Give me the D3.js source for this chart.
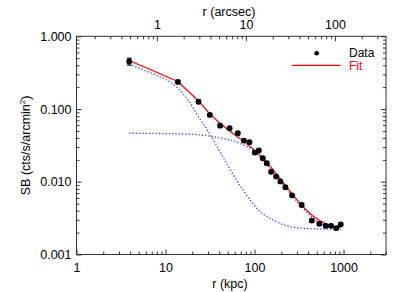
<!DOCTYPE html>
<html>
<head>
<meta charset="utf-8">
<script src="https://cdn.jsdelivr.net/npm/d3@7"></script>
<style>
  body { margin: 0; background: #fff; }
  text { font-family: "Liberation Sans", Arial, sans-serif; fill: #000; }
</style>
</head>
<body>
<div id="chart"></div>
<script>
// radius of each annulus (kpc) and measured surface brightness
var radius = [3.91, 13.8, 23.5, 31.5, 41.1, 52.5, 64.9, 75.9, 87.9, 100.8, 111.7, 123.9, 137.4,
    153.8, 175, 195.5, 222.4, 264.3, 338.7, 440.6, 534.6, 631.6, 724, 828, 930];
var sb = [0.451, 0.236, 0.126, 0.0830, 0.0591, 0.0545, 0.0465, 0.0368, 0.0350, 0.0252, 0.0270,
    0.0211, 0.0180, 0.0137, 0.0118, 0.0101, 0.00843, 0.00650, 0.00479, 0.00293, 0.00264,
    0.00248, 0.00248, 0.00231, 0.00260];
var sbErr = [0.05, 0.012, 0.007, 0.004, 0.003, 0.0025, 0.002, 0.0017, 0.0016, 0.0012, 0.0012,
    0.001, 0.0009, 0.0007, 0.0006, 0.0005, 0.0004, 0.0003, 0.00025, 0.00015, 0.00013,
    0.00012, 0.00012, 0.00012, 0.00013];

// total fit evaluated at the data radii
var fit = [0.465, 0.239, 0.129, 0.0856, 0.0634, 0.0500, 0.0414, 0.0359, 0.0311, 0.0270, 0.0242,
    0.0213, 0.0185, 0.0158, 0.0130, 0.01096, 0.00892, 0.00682, 0.00474, 0.00346, 0.00295,
    0.00264, 0.00248, 0.00238, 0.00233];

// the two model components
var comp1R = [3.91, 6.67, 10.26, 13.8, 17.9, 22.2, 32.7, 46.1, 74.0, 113.8, 175, 319, 930];
var comp1 = [0.416, 0.316, 0.251, 0.193, 0.133, 0.0876, 0.0418, 0.0200, 0.00774, 0.00398,
    0.00284, 0.00231, 0.00222];
var comp2R = [3.91, 14.5, 24.2, 40.5, 67.9, 100, 135, 195.5, 338.7, 534.6, 930];
var comp2 = [0.0465, 0.0455, 0.0441, 0.0401, 0.0339, 0.0262, 0.0177, 0.0102, 0.00452,
    0.00272, 0.00222];

var kpcPerArcsec = 8.0;
var xTicks = [1, 10, 100, 1000];
var topTicks = [1, 10, 100];
var yTicks = [0.001, 0.01, 0.1, 1];

var W = 409, H = 292;
var pLeft = 76.5, pRight = 386, pTop = 36.3, pBottom = 254.5;

var svg = d3.select("#chart").append("svg")
    .attr("width", W).attr("height", H);

var x = d3.scaleLog().domain([1, 3000]).range([pLeft, pRight]);
var xTop = d3.scaleLog().domain([1 / kpcPerArcsec, 3000 / kpcPerArcsec]).range([pLeft, pRight]);
var y = d3.scaleLog().domain([0.001, 1]).range([pBottom, pTop]);

// 2..9 in every decade between lo and hi
function minors(lo, hi) {
    var out = [];
    var d = Math.pow(10, Math.floor(Math.log10(lo)));
    for (; d < hi; d *= 10) {
        for (var k = 2; k < 10; k++) {
            if (d * k >= lo && d * k <= hi) out.push(d * k);
        }
    }
    return out;
}

var axisCol = "#333";

// bottom axis
svg.append("g").attr("transform", "translate(0," + pBottom + ")")
    .call(d3.axisBottom(x).tickValues(minors(1, 3000)).tickSize(-3).tickFormat(""));
svg.append("g").attr("transform", "translate(0," + pBottom + ")")
    .call(d3.axisBottom(x).tickValues(xTicks).tickSize(-5).tickPadding(9).tickFormat(d3.format("d")));

// top axis in arcsec
svg.append("g").attr("transform", "translate(0," + pTop + ")")
    .call(d3.axisTop(xTop).tickValues(minors(xTop.domain()[0], xTop.domain()[1])).tickSize(-3).tickFormat(""));
svg.append("g").attr("transform", "translate(0," + pTop + ")")
    .call(d3.axisTop(xTop).tickValues(topTicks).tickSize(-5).tickPadding(7).tickFormat(d3.format("d")));

// left and right axes
var yMin = minors(0.001, 1);
svg.append("g").attr("transform", "translate(" + pLeft + ",0)")
    .call(d3.axisLeft(y).tickValues(yMin).tickSize(-3).tickFormat(""));
svg.append("g").attr("transform", "translate(" + pLeft + ",0)")
    .call(d3.axisLeft(y).tickValues(yTicks).tickSize(-5).tickPadding(5).tickFormat(d3.format(".3f")));
svg.append("g").attr("transform", "translate(" + pRight + ",0)")
    .call(d3.axisRight(y).tickValues(yMin).tickSize(-3).tickFormat(""));
svg.append("g").attr("transform", "translate(" + pRight + ",0)")
    .call(d3.axisRight(y).tickValues(yTicks).tickSize(-5).tickFormat(""));

svg.selectAll(".domain").remove();
svg.selectAll(".tick line").attr("stroke", axisCol);
svg.selectAll(".tick text").style("font-size", "12.5px").attr("fill", "#000");

svg.append("rect")
    .attr("x", pLeft).attr("y", pTop)
    .attr("width", pRight - pLeft).attr("height", pBottom - pTop)
    .attr("fill", "none").attr("stroke", axisCol);

// axis titles
svg.append("text").attr("x", 230).attr("y", 288).attr("text-anchor", "middle")
    .style("font-size", "12.5px").text("r (kpc)");
svg.append("text").attr("x", 229).attr("y", 16).attr("text-anchor", "middle")
    .style("font-size", "12.5px").text("r (arcsec)");
var yt = svg.append("text")
    .attr("transform", "translate(30," + ((pTop + pBottom) / 2) + ") rotate(-90)")
    .attr("text-anchor", "middle").style("font-size", "12.5px");
yt.append("tspan").text("SB (cts/s/arcmin");
yt.append("tspan").attr("dy", -5).style("font-size", "8px").text("2");
yt.append("tspan").attr("dy", 5).text(")");

var plot = svg.append("g");

// model components
var comp = d3.line().x(function (d) { return x(d[0]); }).y(function (d) { return y(d[1]); })
    .curve(d3.curveMonotoneX);
[[comp1R, comp1], [comp2R, comp2]].forEach(function (c) {
    plot.append("path")
        .datum(c[0].map(function (r, i) { return [r, c[1][i]]; }))
        .attr("fill", "none").attr("stroke", "#3a3aff").attr("stroke-width", 1.3)
        .attr("stroke-dasharray", "1.3,2")
        .attr("d", comp);
});

// fit
plot.append("path")
    .datum(radius.map(function (r, i) { return [r, fit[i]]; }))
    .attr("fill", "none").attr("stroke", "#ff0000").attr("stroke-width", 1.2)
    .attr("d", d3.line().x(function (d) { return x(d[0]); }).y(function (d) { return y(d[1]); }));

// error bars + points
var pts = radius.map(function (r, i) { return { r: r, v: sb[i], e: sbErr[i] }; });
var eb = plot.selectAll(".eb").data(pts).enter().append("g");
eb.append("line")
    .attr("x1", function (d) { return x(d.r); }).attr("x2", function (d) { return x(d.r); })
    .attr("y1", function (d) { return y(d.v + d.e); }).attr("y2", function (d) { return y(d.v - d.e); })
    .attr("stroke", "#000");
eb.append("line")
    .attr("x1", function (d) { return x(d.r) - 2.5; }).attr("x2", function (d) { return x(d.r) + 2.5; })
    .attr("y1", function (d) { return y(d.v + d.e); }).attr("y2", function (d) { return y(d.v + d.e); })
    .attr("stroke", "#000");
eb.append("line")
    .attr("x1", function (d) { return x(d.r) - 2.5; }).attr("x2", function (d) { return x(d.r) + 2.5; })
    .attr("y1", function (d) { return y(d.v - d.e); }).attr("y2", function (d) { return y(d.v - d.e); })
    .attr("stroke", "#000");
eb.append("circle")
    .attr("cx", function (d) { return x(d.r); }).attr("cy", function (d) { return y(d.v); })
    .attr("r", 2.9).attr("fill", "#000");

// legend
svg.append("circle").attr("cx", 316.7).attr("cy", 53.3).attr("r", 2.3).attr("fill", "#000");
svg.append("text").attr("x", 349).attr("y", 57).style("font-size", "12px").text("Data");
svg.append("line").attr("x1", 291.7).attr("x2", 340.7).attr("y1", 65.3).attr("y2", 65.3)
    .attr("stroke", "#ff0000").attr("stroke-width", 1.2);
svg.append("text").attr("x", 349).attr("y", 69.5).style("font-size", "12px")
    .style("fill", "#ff0000").text("Fit");
</script>
</body>
</html>
